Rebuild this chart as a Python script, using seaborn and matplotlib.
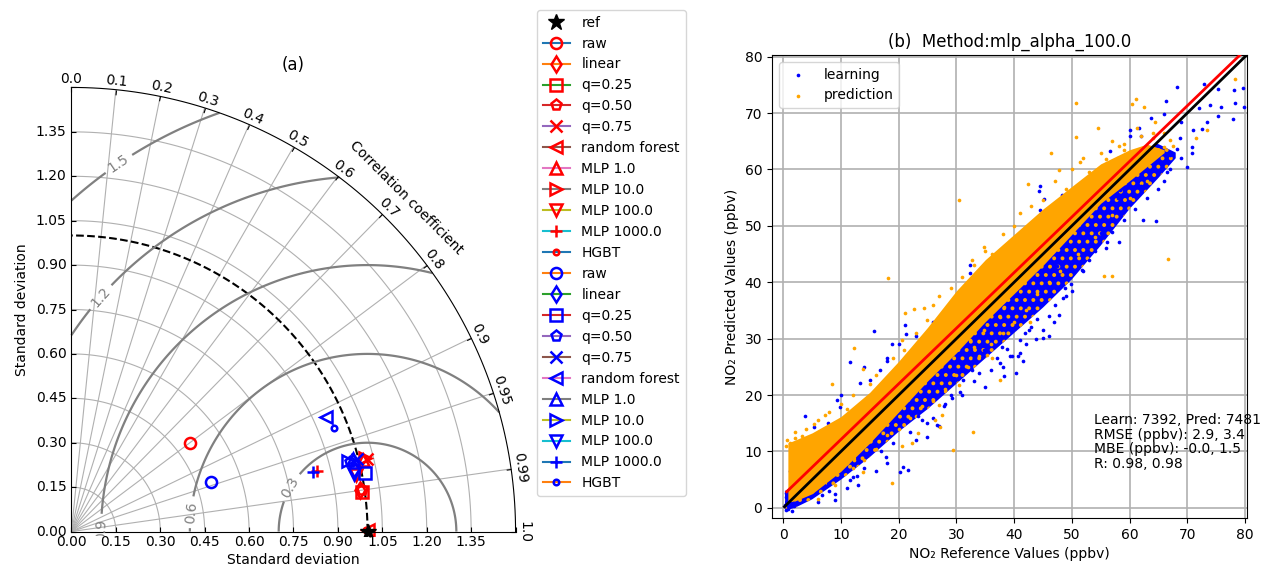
import numpy as np
import matplotlib
matplotlib.use("Agg")
import matplotlib.pyplot as plt
import seaborn as sns
from matplotlib.projections import PolarAxes
import mpl_toolkits.axisartist.floating_axes as FA
import mpl_toolkits.axisartist.grid_finder as GF

# ---------------- Taylor diagram data (normalised std, correlation) ----------------
model_names = ["raw", "linear", "q=0.25", "q=0.50", "q=0.75", "random forest",
               "MLP 1.0", "MLP 10.0", "MLP 100.0", "MLP 1000.0", "HGBT"]
model_markers = ["o", "d", "s", "p", "x", "<", "^", ">", "v", "+", "."]

# learning set (red) : std components along (x, y) of the diagram
learn_x = [0.400, 0.975, 0.980, 0.982, 0.998, 1.000, 0.985, 0.992, 0.960, 0.830, 0.995]
learn_y = [0.300, 0.140, 0.135, 0.140, 0.246, 0.004, 0.240, 0.250, 0.190, 0.203, 0.006]
# prediction set (blue)
pred_x = [0.473, 0.955, 0.993, 0.940, 0.965, 0.860, 0.950, 0.935, 0.953, 0.815, 0.887]
pred_y = [0.169, 0.210, 0.199, 0.235, 0.245, 0.386, 0.245, 0.240, 0.196, 0.202, 0.349]

ref_std = 1.0
std_ticks = [0.00, 0.15, 0.30, 0.45, 0.60, 0.75, 0.90, 1.05, 1.20, 1.35, 1.50]
corr_ticks = [0.0, 0.1, 0.2, 0.3, 0.4, 0.5, 0.6, 0.7, 0.8, 0.9, 0.95, 0.99, 1.0]
rms_levels = [0.3, 0.6, 0.9, 1.2, 1.5]
# where each RMS level is labelled: (angle, radius)
rms_label_theta = [0.200, 0.160, 0.060, 1.459, 1.438]
rms_label_r = [0.755, 0.410, 0.100, 0.805, 1.246]

# ---------------- scatter panel data (ppbv) ----------------
# dense cores of each cloud: reference value -> (low, high) predicted value
learn_core_x = [0.3, 2, 5, 10, 15, 20, 25, 30, 35, 40, 45, 50, 55, 60, 65, 68]
learn_core_lo = [-0.5, 0.0, 1.5, 5.0, 9.0, 13.5, 17.5, 22.0, 26.5, 31.0, 35.5, 40.5, 46.5, 53.0, 58.5, 62.0]
learn_core_hi = [3.0, 4.0, 6.0, 10.0, 15.0, 20.0, 25.0, 30.0, 35.0, 40.0, 45.0, 50.5, 56.0, 62.0, 64.5, 63.0]

pred_core_x = [0.8, 2, 5, 10, 15, 20, 25, 30, 35, 40, 45, 50, 55, 60, 63, 66]
pred_core_lo = [1.2, 1.2, 2.5, 6.5, 11.5, 17.0, 22.5, 27.5, 33.0, 38.0, 43.0, 48.5, 54.0, 58.0, 60.5, 63.0]
pred_core_hi = [11.5, 12.0, 13.3, 16.2, 20.5, 26.0, 32.0, 38.5, 44.0, 48.5, 53.0, 57.0, 61.0, 63.5, 64.5, 63.5]

# scattered learning points outside the core
learn_pts_x = [68.2, 72.9, 75.4, 78.1, 79.7, 66.3, 72.0, 73.9, 75.9, 78.2, 79.9, 73.4, 75.4, 78.0,
               71.0, 72.5, 68.7, 70.8, 70.8, 68.2, 63.8, 65.9, 69.0, 60.1, 61.7, 61.0, 62.5, 64.0,
               65.5, 66.5, 63.0, 60.0, 67.0, 64.5, 61.5, 61.5, 58.3, 56.6, 55.0, 44.5, 44.3, 45.1,
               44.5, 48.3, 49.1, 50.6, 62.4, 64.5, 56.1, 58.1, 55.0, 52.6, 51.2, 51.7, 47.4, 46.2,
               39.9, 39.3, 48.0, 48.8, 48.4, 47.7, 46.9, 46.1, 45.0, 43.8, 42.5, 41.9, 41.0, 40.7,
               39.6, 41.5, 37.9, 38.2, 40.4, 37.6, 49.8, 15.8, 21.1, 21.3, 18.8, 11.6, 17.9, 16.8,
               13.3, 15.1, 9.3, 9.9, 3.8, 5.3, 7.8, 5.5, 2.4, 21.7, 20.8, 20.3, 17.8, 15.1, 12.8,
               9.0, 6.7, 11.6, 24.9, 26.6, 29.2, 31.2, 38.7, 39.3, 34.7, 33.1, 32.7, 30.6, 27.8,
               24.9, 23.4, 17.4, 3.5, 1.2, 6.4, 4.7, 2.9, 2.4, 40.3, 39.6, 37.6, 32.3, 32.4, 36.1,
               39.0, 0.5, 0.8, 1.2, 0.4, 1.6,
               8, 12, 14, 17, 19, 22, 24, 26, 28, 29, 31, 33, 34, 36, 37, 42, 43, 44, 46, 47, 49,
               50, 52, 53, 54, 56, 57, 59, 61, 63, 65, 67, 69, 70, 66, 62, 58, 11, 13, 16, 6, 7, 9,
               18, 23, 27, 35, 38, 41, 45,
               10, 14, 18, 20, 23, 26, 28, 34, 36, 38, 42, 43, 46, 50, 53, 56, 58, 60, 62,
               0.3, 0.6, 0.9, 1.2, 1.5, 0.4, 1.8, 2.2, 0.7, 1.0]
learn_pts_y = [74.7, 75.1, 74.3, 74.1, 74.5, 72.2, 70.9, 71.4, 71.0, 71.7, 71.1, 68.5, 69.5, 69.0,
               67.0, 67.1, 65.5, 64.0, 63.0, 63.7, 69.1, 69.9, 68.5, 67.0, 67.3, 62.0, 60.5, 63.0,
               61.0, 59.5, 58.5, 60.0, 62.5, 64.3, 58.0, 58.2, 56.4, 63.3, 60.5, 57.0, 56.1, 54.7,
               52.8, 55.5, 53.5, 50.8, 51.1, 50.9, 47.2, 47.2, 48.7, 51.1, 48.1, 42.2, 42.8, 45.2,
               47.2, 45.7, 39.2, 38.9, 37.2, 34.2, 32.9, 30.5, 30.2, 29.9, 31.6, 31.0, 29.8, 27.0,
               27.0, 26.1, 28.6, 23.4, 24.0, 25.6, 39.7, 31.4, 32.5, 30.9, 29.1, 25.9, 26.5, 24.5,
               22.1, 22.7, 19.1, 17.9, 16.2, 14.4, 15.0, 11.5, 10.3, 6.8, 7.3, 6.3, 9.1, 10.0, 5.6,
               1.4, 2.3, 5.0, 12.6, 14.7, 19.4, 22.7, 28.2, 26.9, 28.0, 26.5, 24.5, 20.6, 18.0,
               15.0, 16.2, 12.6, 9.1, 6.5, 6.5, 3.7, 2.2, 4.3, 48.1, 46.9, 43.4, 43.1, 41.6, 43.9,
               45.1, -0.3, 0.4, 1.8, 2.6, -0.5,
               3.0, 5.5, 7.0, 10.0, 11.5, 13.5, 15.5, 16.0, 18.5, 20.0, 20.0, 22.5, 24.0, 24.5, 26.5,
               29.0, 32.0, 33.5, 34.0, 36.0, 37.5, 38.5, 42.0, 44.0, 45.5, 46.0, 49.0, 51.0, 53.0,
               55.0, 56.5, 60.0, 62.0, 60.5, 58.0, 57.0, 55.0, 3.5, 4.0, 6.5, 1.0, 4.0, 2.5, 8.0,
               12.0, 14.5, 21.5, 25.0, 27.5, 31.5,
               20.0, 25.0, 26.0, 29.0, 30.5, 33.0, 34.0, 40.0, 42.0, 44.5, 48.0, 50.0, 52.0, 55.0,
               58.0, 61.0, 62.0, 66.0, 66.0,
               0.5, 1.0, -0.2, 0.6, 1.8, 2.0, 0.4, 1.5, 2.8, 1.2]

# scattered prediction points outside the core
pred_pts_x = [50.7, 61.1, 62.5, 60.4, 54.5, 50.8, 46.4, 47.7, 42.4, 41.0, 78.3, 73.4, 71.6, 66.7,
              64.4, 61.3, 51.4, 58.1, 65.3, 67.6, 67.0, 55.6, 57.0, 42.8, 30.4, 18.2, 32.7, 34.7,
              39.3, 36.1, 12.2, 13.9, 8.4, 7.3, 5.3, 2.1, 1.2, 3.2, 21.1, 22.6, 24.3, 24.9, 20.5,
              18.8, 29.4, 32.8, 26.9, 27.5, 26.3, 22.3, 23.4, 20.5, 13.9, 12.2, 11.0, 32.4, 33.0,
              35.3, 36.1, 37.6, 30.4, 27.2, 34.7, 37.6, 38.2, 0.6, 0.5, 66.0, 64.0, 59.0, 56.0,
              53.0, 49.0, 45.0,
              2, 4, 6, 8, 10, 11, 12, 15, 16, 19, 21, 23, 26, 27, 29, 31, 33, 35, 38, 40, 43, 45,
              47, 50, 52, 55, 57, 59, 62, 64, 66,
              6, 9, 12, 14, 16, 18, 20, 22, 24, 26, 28, 30, 32, 34, 36, 38, 40, 42, 44, 46, 48,
              51, 54, 57, 60, 63]
pred_pts_y = [71.8, 72.5, 71.1, 71.6, 67.4, 65.7, 63.0, 59.9, 57.4, 52.3, 76.0, 67.0, 65.5, 44.1,
              68.5, 67.3, 61.4, 64.1, 63.0, 64.1, 65.3, 41.1, 41.1, 33.0, 54.5, 40.8, 43.9, 46.3,
              47.2, 45.1, 28.3, 24.6, 21.9, 16.5, 14.9, 12.4, 11.5, 12.7, 34.5, 35.2, 35.4, 33.3,
              29.8, 4.4, 10.2, 13.4, 18.2, 16.5, 15.6, 11.5, 13.2, 10.9, 6.4, 8.5, 7.9, 29.8, 28.6,
              27.1, 26.6, 22.7, 21.8, 14.4, 31.6, 33.9, 35.7, 12.0, 11.0, 66.5, 65.5, 63.5, 61.8,
              59.5, 56.5, 52.0,
              13.5, 14.0, 15.5, 17.0, 18.5, 17.5, 20.0, 22.0, 23.5, 26.5, 28.0, 31.0, 36.0, 37.5,
              39.0, 41.0, 43.0, 45.5, 48.5, 50.0, 53.5, 54.5, 58.0, 60.0, 62.0, 63.0, 65.0, 64.5,
              66.0, 66.5, 64.0,
              1.5, 4.0, 7.0, 8.5, 10.5, 13.0, 14.0, 16.0, 18.0, 19.0, 21.0, 23.5, 25.0, 27.0, 29.0,
              31.0, 33.0, 35.0, 38.0, 40.0, 42.0, 45.0, 48.0, 52.0, 55.0, 58.0]

one_to_one_x = [0.2, 80.3]
fit_x = [0.6, 80.3]
fit_slope, fit_intercept = 0.986, 2.27

stats_text = "Learn: 7392, Pred: 7481\nRMSE (ppbv): 2.9, 3.4\nMBE (ppbv): -0.0, 1.5\nR: 0.98, 0.98"

# ---------------- figure ----------------
W, H = 1266, 575
fig = plt.figure(figsize=(W / 100, H / 100), dpi=100)

# Taylor diagram on floating polar axes
try:
    tr = PolarAxes.PolarTransform(apply_theta_transforms=False)
except TypeError:
    tr = PolarAxes.PolarTransform()
tlocs = np.arccos(corr_ticks)
gl1 = GF.FixedLocator(list(tlocs))
tf1 = GF.DictFormatter(dict(zip(tlocs, [str(c) for c in corr_ticks])))
gl2 = GF.FixedLocator(std_ticks)
tf2 = GF.DictFormatter({s: (f"{s:.2f}" if s < 1.45 else "") for s in std_ticks})
ghelper = FA.GridHelperCurveLinear(tr, extremes=(0, np.pi / 2, 0, 1.5),
                                   grid_locator1=gl1, tick_formatter1=tf1,
                                   grid_locator2=gl2, tick_formatter2=tf2)
rect = [67 / W, 1 - 536 / H, 453 / W, 453 / H]
tax = fig.add_axes(rect, axes_class=FA.FloatingAxes, grid_helper=ghelper)

tax.axis["top"].set_axis_direction("bottom")
tax.axis["top"].toggle(ticklabels=True, label=True)
tax.axis["top"].major_ticklabels.set_axis_direction("top")
tax.axis["top"].label.set_axis_direction("top")
tax.axis["top"].label.set_text("Correlation coefficient")
tax.axis["left"].set_axis_direction("bottom")
tax.axis["left"].label.set_text("Standard deviation")
tax.axis["right"].set_axis_direction("top")
tax.axis["right"].toggle(ticklabels=True, label=True)
tax.axis["right"].major_ticklabels.set_axis_direction("left")
tax.axis["right"].label.set_axis_direction("left")
tax.axis["right"].label.set_text("Standard deviation")
tax.axis["bottom"].set_visible(False)
for key in ["top", "left", "right"]:
    tax.axis[key].major_ticklabels.set_fontsize(10)
    tax.axis[key].label.set_fontsize(10)
tax.grid(True, color="#b0b0b0", lw=0.8)

pax = tax.get_aux_axes(tr)

handles = []
h, = pax.plot([0], [ref_std], "k*", ls="", ms=12, label="ref", zorder=5)
handles.append(h)

t = np.linspace(0, np.pi / 2, 100)
pax.plot(t, np.full_like(t, ref_std), "k--", lw=1.5)

# centred RMS difference contours
rs, ts = np.meshgrid(np.linspace(0, 1.5, 300), np.linspace(0, np.pi / 2, 300))
rms = np.sqrt(ref_std ** 2 + rs ** 2 - 2 * ref_std * rs * np.cos(ts))
cs = pax.contour(ts, rs, rms, levels=rms_levels, colors="0.5", linewidths=1.6)
try:
    pax.clabel(cs, inline=True, fontsize=10, fmt="%.1f",
               manual=list(zip(rms_label_theta, rms_label_r)))
except Exception:
    pax.clabel(cs, inline=True, fontsize=10, fmt="%.1f")

idx = 0
for xs, ys, mcol in [(learn_x, learn_y, "red"), (pred_x, pred_y, "blue")]:
    for name, mk, sx, sy in zip(model_names, model_markers, xs, ys):
        std = np.hypot(sx, sy)
        corr = sx / std
        h, = pax.plot([np.arccos(corr)], [std], marker=mk, ms=8, mew=1.8,
                      mec=mcol, mfc="none", color=f"C{idx % 10}", label=name)
        handles.append(h)
        idx += 1

fig.legend(handles=handles, labels=[hh.get_label() for hh in handles],
           loc="upper left", bbox_to_anchor=(537 / W, 1 - 10 / H), fontsize=10,
           borderaxespad=0)
fig.text(293 / W, 1 - 65 / H, "(a)", ha="center", va="center", fontsize=12)

# ---------------- scatter panel ----------------
plt.rcParams["hatch.linewidth"] = 1.6
ax = fig.add_axes([772 / W, 1 - 518 / H, 475 / W, 463 / H])
ax.set_axisbelow(True)
ax.grid(True, color="#b0b0b0", lw=1.2)

# learning core: dense blue points speckled with overlapping orange ones
ax.fill_between(learn_core_x, learn_core_lo, learn_core_hi, facecolor="blue",
                edgecolor="orange", hatch="..", lw=0, zorder=2)
sns.scatterplot(x=learn_pts_x, y=learn_pts_y, ax=ax, color="blue", s=7, marker="o",
                linewidth=0, label="learning", zorder=3)
ax.fill_between(pred_core_x, pred_core_lo, pred_core_hi, color="orange", lw=0, zorder=4)
sns.scatterplot(x=pred_pts_x, y=pred_pts_y, ax=ax, color="orange", s=7, marker="o",
                linewidth=0, label="prediction", zorder=5)

sns.lineplot(x=one_to_one_x, y=one_to_one_x, ax=ax, color="black", lw=2, zorder=6)
fit_y = [fit_slope * v + fit_intercept for v in fit_x]
sns.lineplot(x=fit_x, y=fit_y, ax=ax, color="red", lw=2, zorder=6)

ax.set_xlim(-1.95, 80.35)
ax.set_ylim(-1.8, 80.3)
ax.set_xticks(range(0, 81, 10))
ax.set_yticks(range(0, 81, 10))
ax.tick_params(labelsize=10)
ax.set_xlabel("NO\u2082 Reference Values (ppbv)", fontsize=10)
ax.set_ylabel("NO\u2082 Predicted Values (ppbv)", fontsize=10)
ax.set_title("(b)  Method:mlp_alpha_100.0", fontsize=12)
ax.text(53.9, 16.8, stats_text, fontsize=10, va="top", ha="left", linespacing=1.05,
        clip_on=False, zorder=7)
ax.legend(loc="upper left", fontsize=10)

fig.savefig("out.png", dpi=100)
